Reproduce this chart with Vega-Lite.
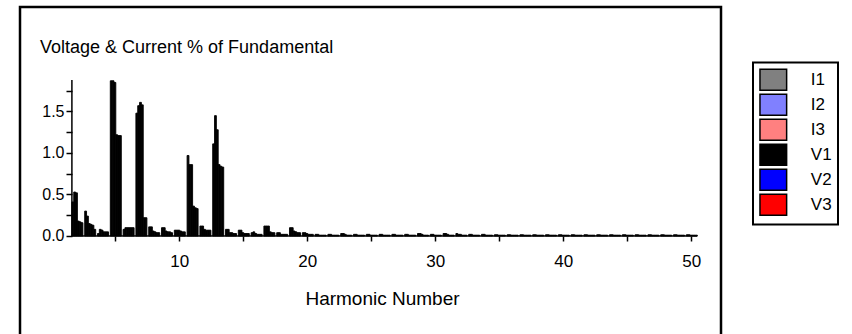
{
  "$schema": "https://vega.github.io/schema/vega-lite/v6.json",
  "width": 701,
  "height": 330,
  "autosize": {"type": "none"},
  "padding": {"left": 20, "top": 7, "right": 131, "bottom": -3},
  "background": "white",
  "config": {
    "view": {"stroke": "black", "strokeWidth": 2.5},
    "axis": {"grid": false, "labelFont": "Liberation Sans", "titleFont": "Liberation Sans", "labelColor": "black", "titleColor": "black", "tickColor": "black", "domainColor": "black"}
  },
  "title": {
    "text": "Voltage & Current % of Fundamental",
    "anchor": "start", "frame": "group", "offset": 0, "dx": 20, "dy": 64,
    "fontSize": 18, "fontWeight": "normal", "font": "Liberation Sans", "color": "black", "baseline": "alphabetic"
  },
  "data": {"values": [
    {"h": 2, "I1": 0.41, "I2": 0.53, "I3": 0.52, "V1": 0.18, "V2": 0.17, "V3": 0.16},
    {"h": 3, "I1": 0.30, "I2": 0.24, "I3": 0.15, "V1": 0.14, "V2": 0.13, "V3": 0.08},
    {"h": 4, "I1": 0.03, "I2": 0.08, "I3": 0.07, "V1": 0.05, "V2": 0.05, "V3": 0.05},
    {"h": 5, "I1": 1.87, "I2": 1.87, "I3": 1.85, "V1": 1.22, "V2": 1.21, "V3": 1.21},
    {"h": 6, "I1": 0.08, "I2": 0.10, "I3": 0.10, "V1": 0.10, "V2": 0.10, "V3": 0.10},
    {"h": 7, "I1": 1.48, "I2": 1.57, "I3": 1.61, "V1": 1.58, "V2": 0.22, "V3": 0.22},
    {"h": 8, "I1": 0.11, "I2": 0.11, "I3": 0.06, "V1": 0.05, "V2": 0.04, "V3": 0.04},
    {"h": 9, "I1": 0.10, "I2": 0.10, "I3": 0.06, "V1": 0.05, "V2": 0.05, "V3": 0.04},
    {"h": 10, "I1": 0.07, "I2": 0.07, "I3": 0.07, "V1": 0.06, "V2": 0.05, "V3": 0.05},
    {"h": 11, "I1": 0.97, "I2": 0.86, "I3": 0.86, "V1": 0.36, "V2": 0.34, "V3": 0.33},
    {"h": 12, "I1": 0.12, "I2": 0.12, "I3": 0.08, "V1": 0.07, "V2": 0.07, "V3": 0.07},
    {"h": 13, "I1": 1.11, "I2": 1.45, "I3": 1.28, "V1": 0.86, "V2": 0.84, "V3": 0.83},
    {"h": 14, "I1": 0.08, "I2": 0.08, "I3": 0.04, "V1": 0.04, "V2": 0.03, "V3": 0.03},
    {"h": 15, "I1": 0.07, "I2": 0.07, "I3": 0.04, "V1": 0.03, "V2": 0.03, "V3": 0.03},
    {"h": 16, "I1": 0.04, "I2": 0.05, "I3": 0.03, "V1": 0.02, "V2": 0.02, "V3": 0.02},
    {"h": 17, "I1": 0.12, "I2": 0.12, "I3": 0.12, "V1": 0.05, "V2": 0.04, "V3": 0.04},
    {"h": 18, "I1": 0.04, "I2": 0.04, "I3": 0.02, "V1": 0.02, "V2": 0.02, "V3": 0.02},
    {"h": 19, "I1": 0.10, "I2": 0.10, "I3": 0.06, "V1": 0.05, "V2": 0.04, "V3": 0.04},
    {"h": 20, "I1": 0.04, "I2": 0.04, "I3": 0.03, "V1": 0.02, "V2": 0.02, "V3": 0.02},
    {"h": 21, "I1": 0.02, "I2": 0.02, "I3": 0.01, "V1": 0.01, "V2": 0.01, "V3": 0.01},
    {"h": 22, "I1": 0.02, "I2": 0.02, "I3": 0.01, "V1": 0.01, "V2": 0.01, "V3": 0.01},
    {"h": 23, "I1": 0.03, "I2": 0.03, "I3": 0.02, "V1": 0.01, "V2": 0.01, "V3": 0.01},
    {"h": 24, "I1": 0.02, "I2": 0.02, "I3": 0.01, "V1": 0.01, "V2": 0.01, "V3": 0.01},
    {"h": 25, "I1": 0.02, "I2": 0.02, "I3": 0.01, "V1": 0.01, "V2": 0.01, "V3": 0.01},
    {"h": 26, "I1": 0.02, "I2": 0.02, "I3": 0.01, "V1": 0.01, "V2": 0.01, "V3": 0.01},
    {"h": 27, "I1": 0.02, "I2": 0.02, "I3": 0.01, "V1": 0.01, "V2": 0.01, "V3": 0.01},
    {"h": 28, "I1": 0.02, "I2": 0.02, "I3": 0.01, "V1": 0.01, "V2": 0.01, "V3": 0.01},
    {"h": 29, "I1": 0.03, "I2": 0.03, "I3": 0.02, "V1": 0.01, "V2": 0.01, "V3": 0.01},
    {"h": 30, "I1": 0.02, "I2": 0.02, "I3": 0.01, "V1": 0.01, "V2": 0.01, "V3": 0.01},
    {"h": 31, "I1": 0.03, "I2": 0.03, "I3": 0.02, "V1": 0.01, "V2": 0.01, "V3": 0.01},
    {"h": 32, "I1": 0.03, "I2": 0.02, "I3": 0.02, "V1": 0.01, "V2": 0.01, "V3": 0.01},
    {"h": 33, "I1": 0.02, "I2": 0.02, "I3": 0.01, "V1": 0.01, "V2": 0.01, "V3": 0.01},
    {"h": 34, "I1": 0.02, "I2": 0.02, "I3": 0.01, "V1": 0.01, "V2": 0.01, "V3": 0.01},
    {"h": 35, "I1": 0.015, "I2": 0.015, "I3": 0.01, "V1": 0.01, "V2": 0.01, "V3": 0.01},
    {"h": 36, "I1": 0.015, "I2": 0.015, "I3": 0.01, "V1": 0.01, "V2": 0.01, "V3": 0.01},
    {"h": 37, "I1": 0.015, "I2": 0.015, "I3": 0.01, "V1": 0.01, "V2": 0.01, "V3": 0.01},
    {"h": 38, "I1": 0.015, "I2": 0.015, "I3": 0.01, "V1": 0.01, "V2": 0.01, "V3": 0.01},
    {"h": 39, "I1": 0.015, "I2": 0.015, "I3": 0.01, "V1": 0.01, "V2": 0.01, "V3": 0.01},
    {"h": 40, "I1": 0.015, "I2": 0.015, "I3": 0.01, "V1": 0.01, "V2": 0.01, "V3": 0.01},
    {"h": 41, "I1": 0.015, "I2": 0.015, "I3": 0.01, "V1": 0.01, "V2": 0.01, "V3": 0.01},
    {"h": 42, "I1": 0.015, "I2": 0.015, "I3": 0.01, "V1": 0.01, "V2": 0.01, "V3": 0.01},
    {"h": 43, "I1": 0.015, "I2": 0.015, "I3": 0.01, "V1": 0.01, "V2": 0.01, "V3": 0.01},
    {"h": 44, "I1": 0.015, "I2": 0.015, "I3": 0.01, "V1": 0.01, "V2": 0.01, "V3": 0.01},
    {"h": 45, "I1": 0.015, "I2": 0.015, "I3": 0.01, "V1": 0.01, "V2": 0.01, "V3": 0.01},
    {"h": 46, "I1": 0.015, "I2": 0.015, "I3": 0.01, "V1": 0.01, "V2": 0.01, "V3": 0.01},
    {"h": 47, "I1": 0.015, "I2": 0.015, "I3": 0.01, "V1": 0.01, "V2": 0.01, "V3": 0.01},
    {"h": 48, "I1": 0.015, "I2": 0.015, "I3": 0.01, "V1": 0.01, "V2": 0.01, "V3": 0.01},
    {"h": 49, "I1": 0.015, "I2": 0.015, "I3": 0.01, "V1": 0.01, "V2": 0.01, "V3": 0.01},
    {"h": 50, "I1": 0.015, "I2": 0.015, "I3": 0.01, "V1": 0.01, "V2": 0.01, "V3": 0.01}
  ]},
  "layer": [
    {
      "transform": [{"fold": ["I1", "I2", "I3", "V1", "V2", "V3"], "as": ["series", "value"]}],
      "mark": {"type": "bar", "fill": "black", "stroke": "black", "strokeWidth": 0.9},
      "encoding": {
        "x": {
          "field": "h", "type": "ordinal",
          "scale": {"domain": [2,3,4,5,6,7,8,9,10,11,12,13,14,15,16,17,18,19,20,21,22,23,24,25,26,27,28,29,30,31,32,33,34,35,36,37,38,39,40,41,42,43,44,45,46,47,48,49,50], "range": [51.9, 677.3], "paddingInner": 0.14, "paddingOuter": 0},
          "axis": {
            "orient": "bottom", "offset": -101, "domain": false,
            "values": [5,10,15,20,25,30,35,40,45,50],
            "labelExpr": "datum.value % 10 == 0 ? datum.label : ''",
            "labelAngle": 0, "tickSize": 5, "tickWidth": 1.5, "labelFontSize": 17, "labelPadding": 12,
            "title": "Harmonic Number", "titleFontSize": 19, "titleFontWeight": "normal",
            "titleX": 362, "titleY": 68, "titleBaseline": "alphabetic"
          }
        },
        "xOffset": {"field": "series", "type": "nominal", "scale": {"domain": ["I1", "I2", "I3", "V1", "V2", "V3"], "paddingInner": 0, "paddingOuter": 0}},
        "y": {
          "field": "value", "type": "quantitative",
          "scale": {"domain": [-1.2169, 2.759], "nice": false, "zero": false},
          "axis": {
            "orient": "left", "offset": -52, "domain": false,
            "values": [0, 0.25, 0.5, 0.75, 1, 1.25, 1.5, 1.75],
            "labelExpr": "(datum.value * 2) % 1 == 0 ? format(datum.value, '.1f') : ''",
            "tickSize": 6, "tickWidth": 1.5, "labelPadding": 2, "labelFontSize": 16, "title": null
          }
        },
        "y2": {"datum": 0}
      }
    },
    {
      "data": {"values": [{}]},
      "mark": {"type": "rule", "color": "black", "strokeWidth": 1.5},
      "encoding": {
        "x": {"datum": 2, "type": "ordinal", "bandPosition": 0},
        "y": {"datum": 0, "type": "quantitative"},
        "y2": {"datum": 1.88}
      }
    },
    {
      "data": {"values": [{}]},
      "mark": {"type": "rule", "color": "black", "strokeWidth": 1.5},
      "encoding": {
        "x": {"datum": 2, "type": "ordinal", "bandPosition": 0},
        "x2": {"datum": 50, "bandPosition": 1},
        "y": {"datum": 0, "type": "quantitative"}
      }
    },
    {
      "data": {"values": [{"series": "I1"}, {"series": "I2"}, {"series": "I3"}, {"series": "V1"}, {"series": "V2"}, {"series": "V3"}]},
      "mark": {"type": "rect", "opacity": 0},
      "encoding": {
        "color": {
          "field": "series", "type": "nominal",
          "scale": {"domain": ["I1", "I2", "I3", "V1", "V2", "V3"], "range": ["#808080", "#8080ff", "#ff8080", "#000000", "#0000ff", "#ff0000"]},
          "legend": {
            "orient": "none", "legendX": 733, "legendY": 55.5, "title": null,
            "padding": 5.8, "symbolType": "M-1.27,-1H1.27V1H-1.27Z", "symbolSize": 441,
            "symbolOffset": 3, "labelOffset": 26, "rowPadding": -2.4,
            "labelFontSize": 17, "labelFont": "Liberation Sans", "labelColor": "black",
            "strokeColor": "black", "symbolOpacity": 1, "symbolStrokeColor": "black", "symbolStrokeWidth": 1.5,
            "encode": {
              "legend": {"update": {"strokeWidth": {"value": 2}}},
              "symbols": {"update": {"stroke": {"value": "black"}, "strokeWidth": {"value": 1.5}, "opacity": {"value": 1}}}
            }
          }
        }
      }
    }
  ]
}
